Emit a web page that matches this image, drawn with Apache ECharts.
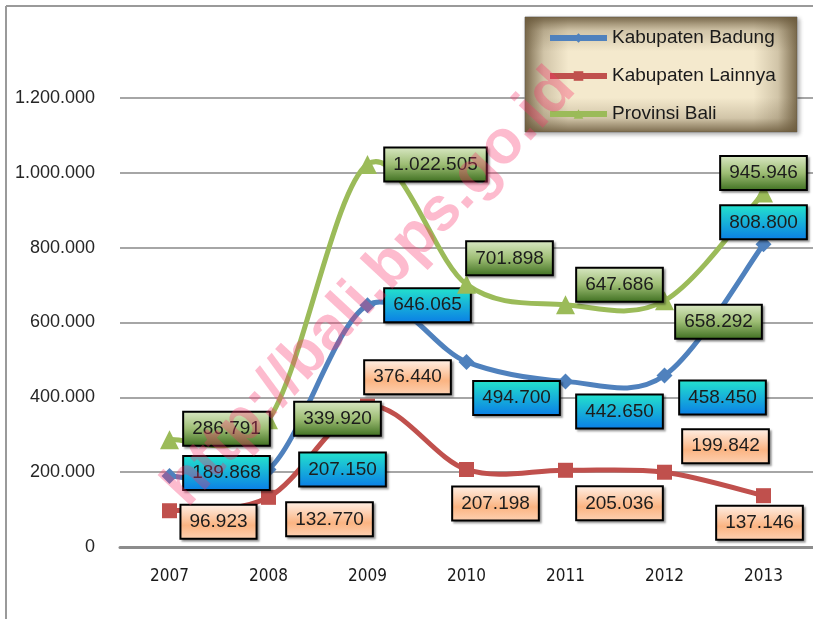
<!DOCTYPE html>
<html>
<head>
<meta charset="utf-8">
<script src="https://cdn.jsdelivr.net/npm/echarts@6/dist/echarts.min.js"></script>
<style>
html, body { margin: 0; padding: 0; background: #fff; }
#chart { width: 813px; height: 619px; }
</style>
</head>
<body>
<div id="chart"></div>
<script>
var years = ['2007', '2008', '2009', '2010', '2011', '2012', '2013'];
var badung = [189868, 207150, 646065, 494700, 442650, 458450, 808800];
var lainnya = [96923, 132770, 376440, 207198, 205036, 199842, 137146];
var bali = [286791, 339920, 1022505, 701898, 647686, 658292, 945946];
var seriesNames = ['Kabupaten Badung', 'Kabupaten Lainnya', 'Provinsi Bali'];
var seriesColors = ['#4f81bd', '#c0504d', '#9bbb59'];

// where each value box sits relative to its point
var offBadung = [[57, -3], [74, 0], [60, 0], [50, 36], [54, 30], [58, 22], [0, -22]];
var offLainnya = [[49, 11], [61, 22], [40, -29], [29, 34], [54, 33], [61, -26], [-4, 27]];
var offBali = [[57, -11], [69, -1], [68, 0], [43, -26], [54, -20], [54, 21], [0, -20]];

function fmt(v) {
	return String(v).replace(/\B(?=(\d{3})+(?!\d))/g, '.');
}

function grad(x2, y2, stops) {
	return new echarts.graphic.LinearGradient(0, 0, x2, y2, stops);
}

var boxGreen = grad(0, 1, [{offset: 0, color: '#dbe9c6'}, {offset: 0.5, color: '#9dbd74'}, {offset: 1, color: '#3c6d1e'}]);
var boxBlue = grad(0, 1, [{offset: 0, color: '#24e4cc'}, {offset: 1, color: '#0a7de6'}]);
var boxOrange = grad(0, 1, [{offset: 0, color: '#fff1e8'}, {offset: 0.6, color: '#fbb482'}, {offset: 1, color: '#fdd2b4'}]);

function boxLabel(bg) {
	return {
		show: true,
		position: 'inside',
		formatter: function(p) { return fmt(p.value); },
		fontFamily: "'Liberation Sans', Arial, sans-serif",
		fontSize: 19,
		lineHeight: 22,
		color: '#1c1c1c',
		backgroundColor: bg,
		borderColor: '#000',
		borderWidth: 2,
		padding: [5, 8],
		shadowColor: 'rgba(0,0,0,0.35)',
		shadowOffsetX: 2,
		shadowOffsetY: 2,
		shadowBlur: 2
	};
}

function withOffsets(vals, offs) {
	return vals.map(function(v, i) {
		return { value: v, label: { offset: offs[i] } };
	});
}

// excel-like spline: each item draws the curve piece to the next point
function splineSeries(vals, color) {
	return {
		type: 'custom',
		z: 1,
		silent: true,
		data: vals.map(function(v, i) { return [i, v]; }),
		renderItem: function(params, api) {
			var i = params.dataIndex;
			if (i >= vals.length - 1) return null;
			var p = function(k) {
				k = Math.max(0, Math.min(vals.length - 1, k));
				return api.coord([k, vals[k]]);
			};
			var p0 = p(i - 1), p1 = p(i), p2 = p(i + 1), p3 = p(i + 2);
			return {
				type: 'bezierCurve',
				shape: {
					x1: p1[0], y1: p1[1],
					cpx1: p1[0] + (p2[0] - p0[0]) / 6, cpy1: p1[1] + (p2[1] - p0[1]) / 6,
					cpx2: p2[0] - (p3[0] - p1[0]) / 6, cpy2: p2[1] - (p3[1] - p1[1]) / 6,
					x2: p2[0], y2: p2[1]
				},
				style: { stroke: color, lineWidth: 5, fill: null, lineCap: 'round' }
			};
		}
	};
}

// dark edges of the legend panel
var edge = 'rgba(105, 88, 58, 0.85)';
var clear = 'rgba(105, 88, 58, 0)';
var vignetteH = grad(1, 0, [{offset: 0, color: edge}, {offset: 0.07, color: 'rgba(105,88,58,0.25)'}, {offset: 0.16, color: clear}, {offset: 0.84, color: clear}, {offset: 0.93, color: 'rgba(105,88,58,0.25)'}, {offset: 1, color: edge}]);
var vignetteV = grad(0, 1, [{offset: 0, color: edge}, {offset: 0.12, color: 'rgba(105,88,58,0.25)'}, {offset: 0.3, color: clear}, {offset: 0.7, color: clear}, {offset: 0.88, color: 'rgba(105,88,58,0.25)'}, {offset: 1, color: edge}]);

var myChart = echarts.init(document.getElementById('chart'));

var option = {
	animation: false,
	backgroundColor: '#fff',
	grid: { left: 120, right: 0, top: 98, bottom: 72 },
	legend: {
		orient: 'vertical',
		left: 542,
		top: 23,
		itemWidth: 57,
		itemHeight: 12,
		itemGap: 18,
		data: seriesNames,
		lineStyle: { width: 6, opacity: 1 },
		textStyle: {
			fontFamily: "'Liberation Sans', Arial, sans-serif",
			fontSize: 19,
			lineHeight: 20,
			color: '#1a1a1a'
		}
	},
	xAxis: {
		type: 'category',
		data: years,
		axisLine: { lineStyle: { color: '#8c8c8c', width: 3 } },
		axisTick: { show: false },
		axisLabel: {
			margin: 21,
			fontFamily: "'Liberation Sans Narrow', 'DejaVu Sans Condensed', sans-serif",
			fontSize: 17,
			color: '#1a1a1a'
		}
	},
	yAxis: {
		type: 'value',
		min: 0,
		max: 1200000,
		interval: 200000,
		axisLine: { show: false },
		axisTick: { show: false },
		splitLine: { lineStyle: { color: '#a6a6a6', width: 2 } },
		axisLabel: {
			margin: 25,
			formatter: fmt,
			fontFamily: "'Liberation Sans', Arial, sans-serif",
			fontSize: 18,
			color: '#262626'
		}
	},
	series: [
		splineSeries(badung, seriesColors[0]),
		splineSeries(lainnya, seriesColors[1]),
		splineSeries(bali, seriesColors[2]),
		{
			name: seriesNames[0],
			type: 'line',
			symbol: 'diamond',
			symbolSize: 16,
			z: 3,
			itemStyle: { color: seriesColors[0] },
			lineStyle: { width: 5, color: seriesColors[0], opacity: 0 },
			label: boxLabel(boxBlue),
			data: withOffsets(badung, offBadung)
		},
		{
			name: seriesNames[1],
			type: 'line',
			symbol: 'rect',
			symbolSize: 15,
			z: 2,
			itemStyle: { color: seriesColors[1] },
			lineStyle: { width: 5, color: seriesColors[1], opacity: 0 },
			label: boxLabel(boxOrange),
			data: withOffsets(lainnya, offLainnya)
		},
		{
			name: seriesNames[2],
			type: 'line',
			symbol: 'triangle',
			symbolSize: 19,
			z: 4,
			itemStyle: { color: seriesColors[2] },
			lineStyle: { width: 5, color: seriesColors[2], opacity: 0 },
			label: boxLabel(boxGreen),
			data: withOffsets(bali, offBali)
		}
	],
	graphic: [
		{ type: 'line', z: 1, shape: { x1: 6, y1: 6, x2: 6, y2: 619 }, style: { stroke: '#9a9a9a', lineWidth: 2 } },
		{ type: 'line', z: 1, shape: { x1: 6, y1: 6, x2: 813, y2: 6 }, style: { stroke: '#9a9a9a', lineWidth: 2 } },
		{
			type: 'rect',
			z: 1,
			shape: { x: 525, y: 17, width: 272, height: 115 },
			style: {
				fill: '#f4e9cd',
				stroke: '#8a8a8a',
				lineWidth: 1,
				shadowColor: 'rgba(0,0,0,0.3)',
				shadowBlur: 4,
				shadowOffsetX: 2,
				shadowOffsetY: 2
			}
		},
		{ type: 'rect', z: 1, shape: { x: 525, y: 17, width: 272, height: 115 }, style: { fill: vignetteH } },
		{ type: 'rect', z: 1, shape: { x: 525, y: 17, width: 272, height: 115 }, style: { fill: vignetteV } },
		{
			type: 'text',
			z: 100,
			x: 370,
			y: 288,
			rotation: 47 * Math.PI / 180,
			style: {
				text: 'http://bali.bps.go.id',
				font: "bold 62px 'Liberation Sans', Arial, sans-serif",
				fill: 'rgba(248, 50, 105, 0.33)',
				textAlign: 'center',
				textVerticalAlign: 'middle'
			}
		}
	]
};

myChart.setOption(option);
</script>
</body>
</html>
